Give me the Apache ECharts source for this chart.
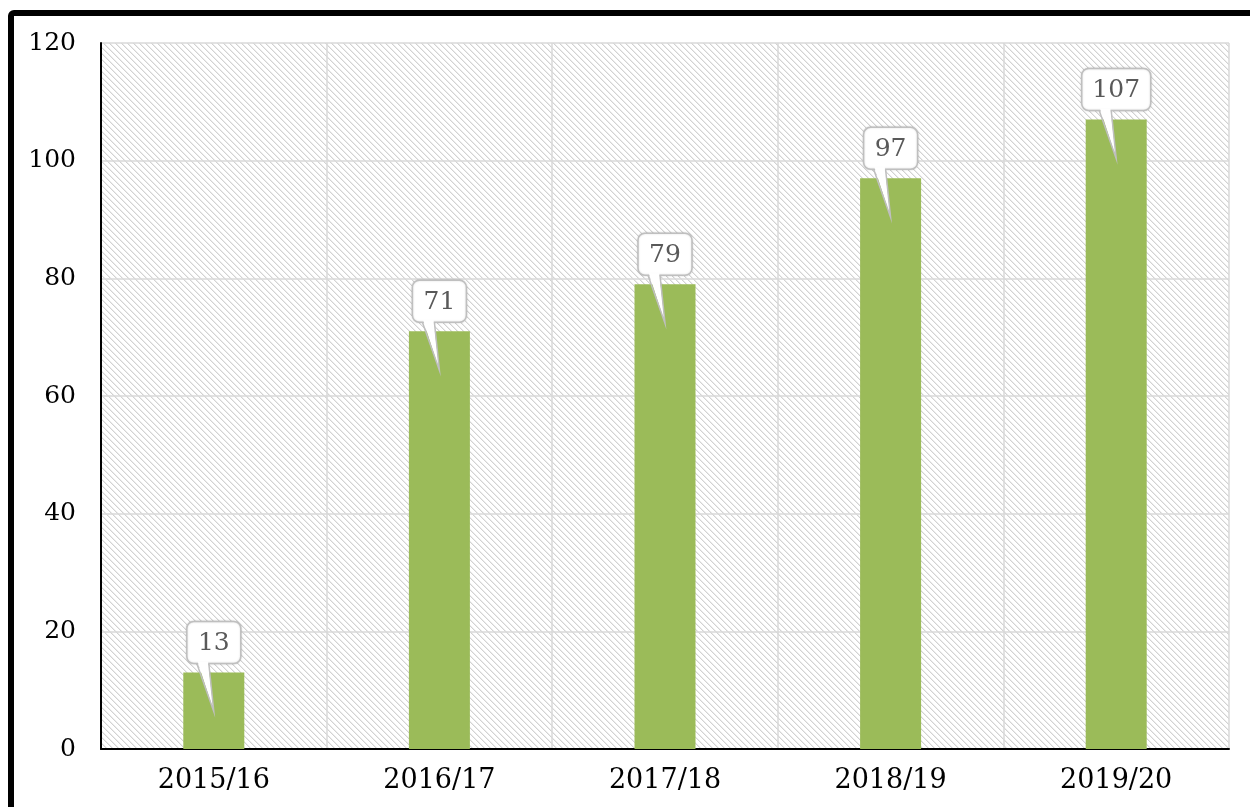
<!DOCTYPE html>
<html>
<head>
<meta charset="utf-8">
<script src="https://cdn.jsdelivr.net/npm/echarts@6/dist/echarts.min.js"></script>
<style>
  html, body { margin: 0; padding: 0; background: #fff; }
  #chart-container { width: 1250px; height: 807px; }
</style>
</head>
<body>
<div id="chart-container"></div>
<script>
// data
const seasons = ['2015/16', '2016/17', '2017/18', '2018/19', '2019/20'];
const counts = [13, 71, 79, 97, 107];
const yTicks = [0, 20, 40, 60, 80, 100, 120];

const FONT = 'DejaVu Serif';

// fine diagonal hatch for the plot background (pixel tile, "\" direction)
const makeHatch = () => {
	const n = 6;
	const c = document.createElement('canvas');
	c.width = n; c.height = n;
	const ctx = c.getContext('2d');
	ctx.fillStyle = '#ffffff';
	ctx.fillRect(0, 0, n, n);
	for (let y = 0; y < n; y++) {
		for (let x = 0; x < n; x++) {
			const d = ((x - y) % n + n) % n;
			if (d === 0) { ctx.fillStyle = '#d2d2d2'; ctx.fillRect(x, y, 1, 1); }
			if (d === 1) { ctx.fillStyle = '#ececec'; ctx.fillRect(x, y, 1, 1); }
		}
	}
	return c;
};

// callout bubble above each bar, pointer dropping into the bar
const renderCallout = (params, api) => {
	const top = api.coord([api.value(0), api.value(1)]);
	const txt = String(api.value(1));
	const w = 24 + 15 * txt.length;
	const h = 42;
	const cx = top[0];
	const bottom = top[1] - 9;
	const y0 = bottom - h;
	const tip = [cx, top[1] + 39];
	const b1 = [cx - 17, bottom];
	const b2 = [cx - 5, bottom];
	return {
		type: 'group',
		children: [
			{
				type: 'rect',
				shape: { x: cx - w / 2, y: y0, width: w, height: h, r: 7 },
				style: { fill: '#fff', stroke: '#bfbfbf', lineWidth: 1.5,
					shadowBlur: 2, shadowColor: 'rgba(0,0,0,0.15)' }
			},
			{
				type: 'polygon',
				shape: { points: [[b1[0] + 0.8, b1[1] - 2], [b2[0] - 0.8, b2[1] - 2], tip] },
				style: { fill: '#fff' }
			},
			{
				type: 'polyline',
				shape: { points: [b1, tip, b2] },
				style: { fill: null, stroke: '#bfbfbf', lineWidth: 1.5 }
			},
			{
				type: 'text',
				style: { text: txt, x: cx, y: y0 + h / 2 + 1, align: 'center', verticalAlign: 'middle',
					font: '25px "' + FONT + '"', fill: '#595959' }
			}
		]
	};
};

const myChart = echarts.init(document.getElementById('chart-container'));
const option = {
	animation: false,
	backgroundColor: '#fff',
	graphic: [{
		type: 'rect',
		shape: { x: 11, y: 13, width: 1400, height: 1000, r: 3 },
		style: { fill: null, stroke: '#000', lineWidth: 6 },
		z: 100
	}],
	grid: {
		left: 101, top: 43, right: 21, bottom: 58,
		show: true,
		borderWidth: 0,
		backgroundColor: { image: makeHatch(), repeat: 'repeat' }
	},
	xAxis: {
		type: 'category',
		data: seasons,
		axisLine: { show: true, lineStyle: { color: '#000', width: 2 } },
		axisTick: { show: false },
		axisLabel: { color: '#000', fontFamily: FONT, fontSize: 27, margin: 18 },
		splitLine: { show: true, interval: 0, lineStyle: { color: '#d9d9d9', width: 1.5 } }
	},
	yAxis: {
		type: 'value',
		min: yTicks[0],
		max: yTicks[yTicks.length - 1],
		interval: 20,
		axisLine: { show: true, lineStyle: { color: '#000', width: 2 } },
		axisTick: { show: false },
		axisLabel: { color: '#000', fontFamily: FONT, fontSize: 25, margin: 25 },
		splitLine: { show: true, lineStyle: { color: '#d9d9d9', width: 1.5 } }
	},
	series: [
		{
			type: 'bar',
			data: counts,
			barWidth: 61,
			itemStyle: { color: '#9bbb59' },
			z: 3
		},
		{
			type: 'custom',
			data: counts.map((v, i) => [i, v]),
			renderItem: renderCallout,
			z: 10
		}
	]
};
myChart.setOption(option);
</script>
</body>
</html>
